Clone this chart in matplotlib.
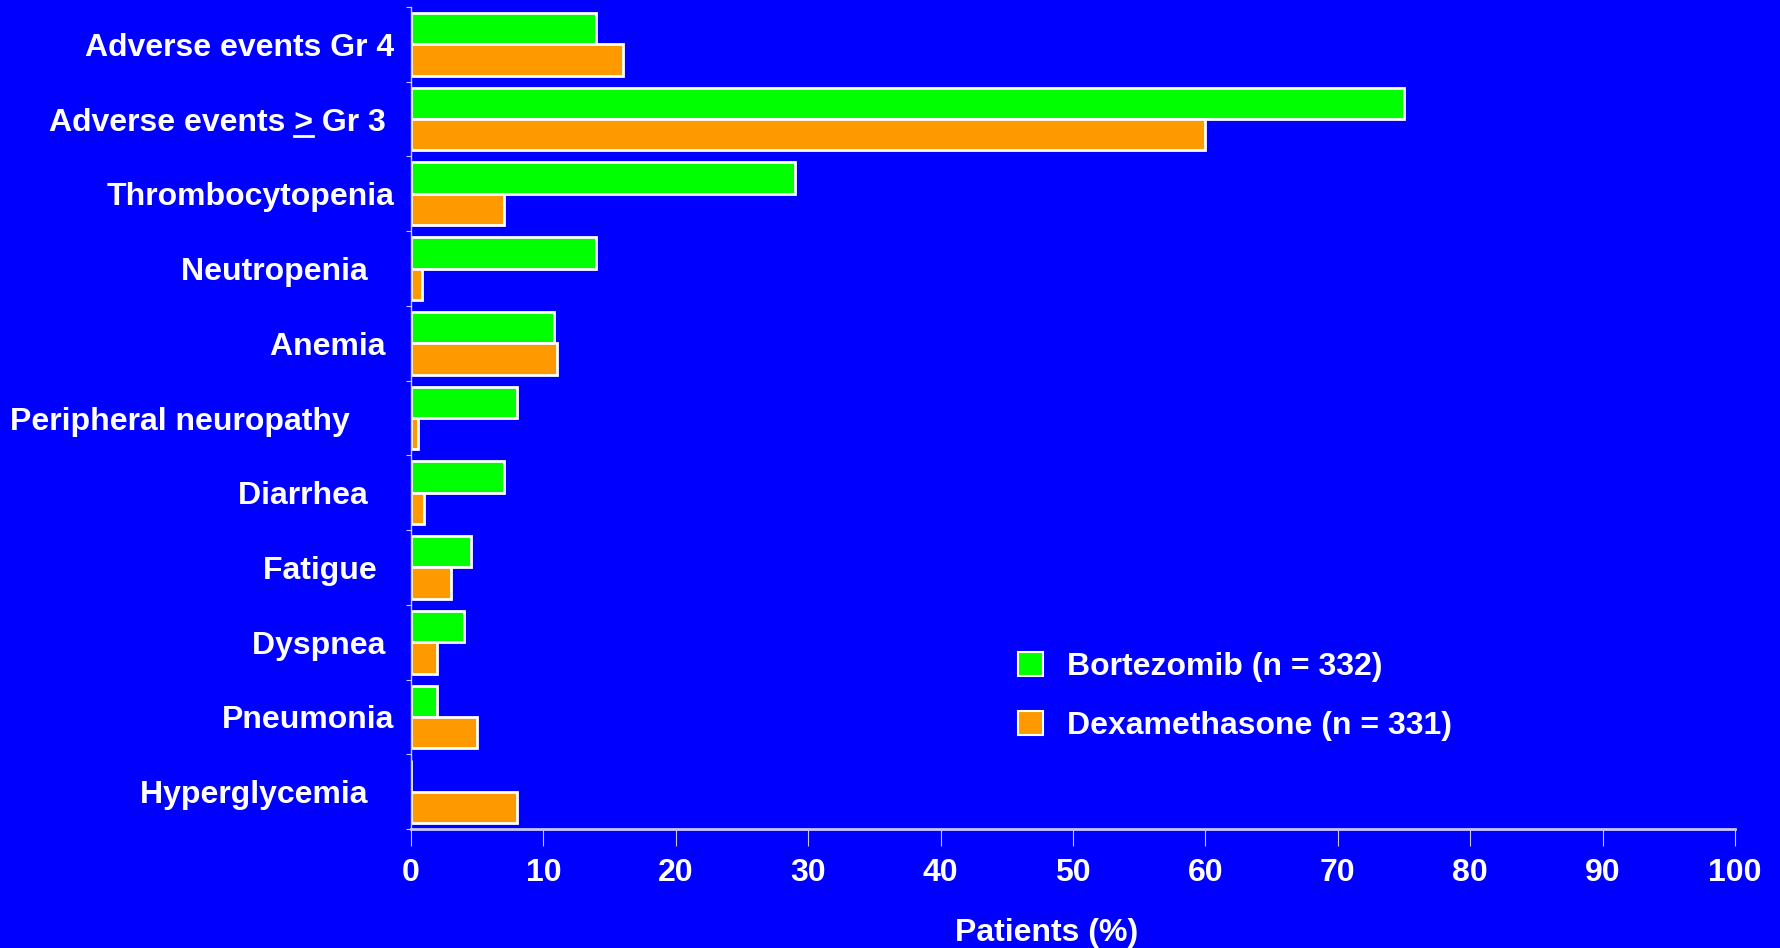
import matplotlib
matplotlib.use("Agg")
import matplotlib.pyplot as plt
import numpy as np
from matplotlib.lines import Line2D
from matplotlib.patches import Patch

# Grade 3/4 adverse events, % of patients
categories = ["Adverse events Gr 4", "Adverse events > Gr 3", "Thrombocytopenia",
              "Neutropenia", "Anemia", "Peripheral neuropathy", "Diarrhea",
              "Fatigue", "Dyspnea", "Pneumonia", "Hyperglycemia"]
# trailing spaces after each label, as laid out on the slide
label_pad = [0, 1, 0, 3, 1, 5, 3, 2, 1, 0, 3]
bortezomib = [14, 75, 29, 14, 10.8, 8, 7, 4.5, 4, 2, 0]
dexamethasone = [16, 60, 7, 0.8, 11, 0.5, 1, 3, 2, 5, 8]
series_labels = ["Bortezomib (n = 332)", "Dexamethasone (n = 331)"]
xticks = list(range(0, 101, 10))

BLUE = "#0000ff"
GREEN = "#00ff00"
ORANGE = "#ff9900"
LINE = "#c8c8ff"

plt.rcParams["font.family"] = ["Liberation Sans", "DejaVu Sans"]
plt.rcParams["font.weight"] = "bold"

W, H = 1780, 948
fig = plt.figure(figsize=(W / 100, H / 100), dpi=100, facecolor=BLUE)
ax = fig.add_axes([411 / W, 1 - 829 / H, (1735 - 411) / W, (829 - 7) / H])
ax.set_facecolor(BLUE)

y = np.arange(len(categories))
h = 0.42
ax.barh(y - h / 2, bortezomib, height=h, color=GREEN, edgecolor="white", linewidth=2)
ax.barh(y + h / 2, dexamethasone, height=h, color=ORANGE, edgecolor="white", linewidth=2)

ax.set_xlim(0, 100)
ax.set_ylim(len(categories) - 0.5, -0.5)

ax.set_xticks(xticks)
ax.set_xticklabels([str(t) for t in xticks], fontsize=23, color="white", fontweight="bold")
ax.tick_params(axis="x", direction="out", length=12, width=0.8, color=LINE, pad=9)

labels = [c + " " * p for c, p in zip(categories, label_pad)]
ax.set_yticks(y)
ax.set_yticklabels(labels, fontsize=23, color="white", fontweight="bold")
ax.tick_params(axis="y", length=0, pad=12)
ax.set_yticks(np.arange(-0.5, len(categories) + 0.5, 1), minor=True)
ax.tick_params(axis="y", which="minor", direction="out", length=3.5, width=0.8, color=LINE)

for side in ["top", "right"]:
    ax.spines[side].set_visible(False)
ax.spines["left"].set_color(LINE)
ax.spines["left"].set_linewidth(1)
ax.spines["bottom"].set_color(LINE)
ax.spines["bottom"].set_linewidth(2)

handles = [Patch(facecolor=GREEN, edgecolor="white", linewidth=1.5),
           Patch(facecolor=ORANGE, edgecolor="white", linewidth=1.5)]
fig.legend(handles, series_labels, loc="upper left",
           bbox_to_anchor=(1018 / W, 1 - 652 / H), frameon=False,
           prop={"size": 23, "weight": "bold"}, labelcolor="white",
           handlelength=0.78, handleheight=0.78, handletextpad=0.75,
           labelspacing=0.9, borderpad=0, borderaxespad=0)

fig.text(1047 / W, 1 - 933 / H, "Patients (%)", fontsize=23, color="white",
         fontweight="bold", ha="center", va="center")

# underline the ">" so it reads as "greater than or equal"
fig.canvas.draw()
renderer = fig.canvas.get_renderer()
lbl = ax.get_yticklabels()[1]
bb = lbl.get_window_extent(renderer)
fp = lbl.get_fontproperties()
tail = labels[1].split(">")[1]
w_tail, _, _ = renderer.get_text_width_height_descent(tail, fp, ismath=False)
w_gt, _, _ = renderer.get_text_width_height_descent(">", fp, ismath=False)
x1 = bb.x1 - w_tail
x0 = x1 - w_gt
yl = bb.y0 + 2
fig.add_artist(Line2D([x0 / W, x1 / W], [yl / H, yl / H], transform=fig.transFigure,
                      color="white", linewidth=2))

fig.savefig("out.png", dpi=100, facecolor=BLUE)
